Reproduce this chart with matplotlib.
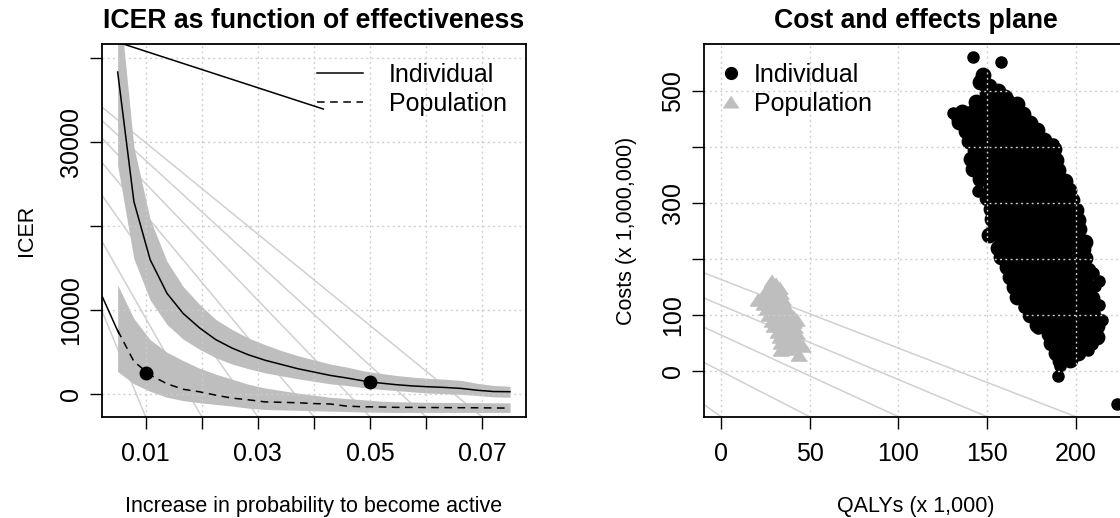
import numpy as np
import matplotlib
matplotlib.use("Agg")
import matplotlib.pyplot as plt
from matplotlib.lines import Line2D

plt.rcParams['font.family'] = ['Liberation Sans', 'DejaVu Sans']

########################################################################
#   Data                                #
########################################################################

# left panel : ICER as function of effectiveness
p_increase = [0.005, 0.0079, 0.0108, 0.0138, 0.0167, 0.0196, 0.0225, 0.0254,
              0.0283, 0.0313, 0.0342, 0.0371, 0.04, 0.0429, 0.0458, 0.0488,
              0.0517, 0.0546, 0.0575, 0.0604, 0.0633, 0.0663, 0.0692, 0.0721, 0.075]
icer_indiv = [38300, 22900, 16000, 12000, 9600, 7900, 6500, 5500, 4700, 4050,
              3550, 3050, 2650, 2250, 1950, 1600, 1350, 1150, 1000, 900, 820,
              700, 480, 330, 310]
icer_indiv_hi = [48700, 29400, 20800, 15800, 12800, 10700, 8900, 7700, 6700,
                 5900, 5200, 4600, 4100, 3600, 3250, 2800, 2500, 2250, 2050,
                 1900, 1800, 1650, 1300, 1050, 950]
icer_indiv_lo = [27200, 16100, 11200, 8300, 6550, 5350, 4350, 3600, 3050, 2550,
                 2200, 1850, 1550, 1250, 1050, 800, 600, 450, 300, 150, 80, 0,
                 -150, -300, -350]
icer_pop = [7600, 3900, 2300, 1250, 600, 300, -100, -450, -650, -900, -950,
            -1000, -1100, -1150, -1400, -1480, -1500, -1550, -1550, -1570,
            -1580, -1590, -1600, -1620, -1640]
icer_pop_hi = [13000, 9000, 6500, 5000, 4000, 3100, 2400, 1800, 1200, 750, 450,
               150, -100, -350, -500, -650, -800, -880, -920, -950, -970, -990,
               -1000, -1010, -1020]
icer_pop_lo = [2700, 1250, 350, -350, -750, -1000, -1200, -1400, -1650, -1800,
               -1850, -1900, -1950, -2000, -2050, -2100, -2130, -2150, -2150,
               -2150, -2150, -2150, -2150, -2150, -2150]
highlight_x = [0.01, 0.05]
highlight_y = [2570, 1430]

# light grey guide lines of the left panel (left border -> bottom border)
guide_left_y = [9800, 18100, 23600, 27500, 30400, 32500, 34100]
guide_bottom_x = [0.01, 0.02, 0.03, 0.04, 0.05, 0.06, 0.07]
# stray black segments of the left panel
stray_x = [0.00226, 0.0417]
stray_y = [42440, 33900]
lead_x = [0.00226, 0.0052]
lead_y = [11600, 7250]

x_ticks_left = [0.01, 0.02, 0.03, 0.04, 0.05, 0.06, 0.07]
x_labels_left = ['0.01', '', '0.03', '', '0.05', '', '0.07']
y_ticks_left = [0, 10000, 20000, 30000, 40000]
y_labels_left = ['0', '10000', '', '30000', '']

# right panel : cost and effects plane (QALYs x 1000, costs x 1e6)
indiv_outliers = [
    (142, 560), (158, 551), (131, 460), (145, 321), (191, 9), (190, -8), (223, -59),
    (171, 114), (215, 92), (208, 145), (213, 118), (187, 405), (179, 77),
    (210, 175), (213, 160), (211, 152), (209, 48), (207, 38), (200, 45), (133, 452),
]
indiv_points = [
    (148, 528), (146, 516), (151, 508), (156, 500), (160, 490), (150, 497),
    (144, 480), (150, 481), (156, 479), (162, 480), (167, 477),
    (136, 462), (141, 461), (147, 463), (153, 462), (159, 461), (165, 463), (170, 459),
    (134, 445), (140, 446), (146, 444), (152, 445), (158, 446), (164, 444), (170, 445), (174, 443),
    (138, 428), (144, 429), (150, 427), (156, 428), (162, 429), (168, 427), (174, 428), (178, 430),
    (140, 410), (146, 411), (152, 409), (158, 410), (164, 411), (170, 409), (176, 410), (182, 412),
    (143, 395), (149, 394), (155, 396), (161, 395), (167, 394), (173, 396), (179, 395), (185, 394), (188, 396),
    (141, 378), (147, 379), (153, 377), (159, 378), (165, 379), (171, 377), (177, 378), (183, 379), (189, 376),
    (142, 360), (148, 361), (154, 359), (160, 360), (166, 361), (172, 359), (178, 360), (184, 361), (190, 358),
    (146, 343), (152, 344), (158, 342), (164, 343), (170, 344), (176, 342), (182, 343), (188, 344), (194, 340),
    (152, 326), (158, 324), (164, 325), (170, 326), (176, 324), (182, 325), (188, 326), (196, 323),
    (150, 308), (156, 309), (162, 307), (168, 308), (174, 309), (180, 307), (186, 308), (192, 309), (198, 306),
    (152, 290), (158, 291), (164, 289), (170, 290), (176, 291), (182, 289), (188, 290), (194, 291), (200, 288),
    (153, 272), (159, 273), (165, 271), (171, 272), (177, 273), (183, 271), (189, 272), (195, 273), (201, 270),
    (154, 255), (160, 256), (166, 254), (172, 255), (178, 256), (184, 254), (190, 255), (196, 256), (202, 253),
    (151, 242), (158, 239), (164, 237), (170, 238), (176, 239), (182, 237), (188, 238), (194, 239), (200, 236), (205, 231),
    (156, 220), (162, 221), (168, 219), (174, 220), (180, 221), (186, 219), (192, 220), (198, 221), (204, 218),
    (158, 203), (164, 204), (170, 202), (176, 203), (182, 204), (188, 202), (194, 203), (200, 204), (205, 201),
    (161, 186), (167, 187), (173, 185), (179, 186), (185, 187), (191, 185), (197, 186), (203, 187), (207, 180),
    (163, 168), (169, 169), (175, 167), (181, 168), (187, 169), (193, 167), (199, 168), (205, 166),
    (165, 150), (171, 151), (177, 149), (183, 150), (189, 151), (195, 149), (201, 150),
    (167, 133), (173, 134), (179, 132), (185, 133), (191, 134), (197, 132), (203, 133), (209, 130),
    (176, 117), (182, 115), (188, 116), (194, 117), (200, 115), (206, 116),
    (174, 100), (180, 101), (186, 99), (192, 100), (198, 101), (204, 99), (210, 100),
    (178, 83), (184, 84), (190, 82), (196, 83), (202, 84), (208, 82), (212, 80),
    (185, 67), (191, 65), (197, 66), (203, 67), (209, 65), (212, 60),
    (186, 50), (192, 51), (198, 49), (204, 50),
    (189, 33), (195, 34), (201, 32),
    (191, 18), (197, 20),
]
pop_points = [
    (29, 160), (31, 156),
    (27, 150), (30, 151), (33, 148),
    (25, 140), (28, 141), (31, 139), (34, 140),
    (21, 127), (23, 131), (26, 130), (29, 129), (32, 131), (35, 128),
    (24, 120), (27, 121), (30, 119), (33, 120), (36, 118),
    (26, 110), (29, 111), (32, 109), (35, 110), (38, 108),
    (27, 100), (30, 101), (33, 99), (36, 100), (39, 99), (41, 97),
    (29, 90), (32, 91), (35, 89), (38, 90), (41, 88), (43, 92),
    (30, 80), (33, 81), (36, 79), (39, 80), (42, 78),
    (32, 70), (35, 71), (38, 69), (41, 70), (43, 68),
    (33, 60), (36, 61), (39, 59), (42, 60), (46, 45),
    (34, 50), (37, 51), (40, 49), (43, 50),
    (34, 37), (38, 42), (41, 40), (44, 28),
]
# light grey guide lines of the right panel (left border -> bottom border)
cp_guide_left_y = [175, 130, 78, 15, -60]
cp_guide_bottom_x = [200, 150, 100, 50, 0]

x_ticks_right = [0, 50, 100, 150, 200]
y_ticks_right = [0, 100, 200, 300, 400, 500]
y_labels_right = ['0', '100', '', '300', '', '500']

########################################################################
#   Figure                                                             #
########################################################################

W, H = 1120, 518
fig = plt.figure(figsize=(W / 100, H / 100), dpi=100)

def px_axes(left, top, width, height):
    return fig.add_axes([left / W, (H - top - height) / H, width / W, height / H])

GRID = dict(color='#CDCDCD', lw=1.0, dashes=(1.4, 2.4), zorder=4)
GUIDE = '#D0D0D0'
BAND = '#BEBEBE'

def style_axes(ax):
    for s in ax.spines.values():
        s.set_linewidth(1.3)
        s.set_zorder(10)
    ax.tick_params(direction='out', length=8.9, width=1.0, labelsize=18)
    ax.tick_params(axis='x', pad=9)
    ax.tick_params(axis='y', pad=5, labelrotation=90)
    for lbl in ax.get_yticklabels():
        lbl.set_va('center')

# ---------------- left panel ----------------
ax1 = px_axes(102.3, 44, 423.4, 372.7)
xl = (0.00226, 0.0778)
yl = (-2660, 41630)
ax1.set_xlim(xl)
ax1.set_ylim(yl)

for y0, x1 in zip(guide_left_y, guide_bottom_x):
    ax1.plot([xl[0], x1], [y0, yl[0]], color=GUIDE, lw=1.1, zorder=1)

ax1.fill_between(p_increase, icer_indiv_lo, icer_indiv_hi, color=BAND, lw=0, zorder=2)
ax1.fill_between(p_increase, icer_pop_lo, icer_pop_hi, color=BAND, lw=0, zorder=2)

for v in x_ticks_left:
    ax1.axvline(v, **GRID)
for v in y_ticks_left:
    ax1.axhline(v, **GRID)

ax1.plot(p_increase, icer_indiv, color='black', lw=1.1, zorder=5)
ax1.plot(p_increase, icer_pop, color='black', lw=1.1, dashes=(5, 3.6), zorder=5)
ax1.plot(lead_x, lead_y, color='black', lw=1.1, zorder=5)
ax1.plot(stray_x, stray_y, color='black', lw=1.1, zorder=5)
ax1.plot(highlight_x, highlight_y, 'o', color='black', ms=9, zorder=6)

ax1.set_xticks(x_ticks_left)
ax1.set_xticklabels(x_labels_left)
ax1.set_yticks(y_ticks_left)
ax1.set_yticklabels(y_labels_left)
style_axes(ax1)

h_ind = Line2D([], [], color='black', lw=1.1)
h_pop = Line2D([], [], color='black', lw=1.1, dashes=(5, 3.6))
ax1.legend([h_ind, h_pop], ['Individual', 'Population'], loc='upper left',
           bbox_to_anchor=(316.7 / W, (H - 62.6) / H), bbox_transform=fig.transFigure,
           frameon=False, fontsize=18, handlelength=1.86, handletextpad=1.04,
           labelspacing=0.2, borderpad=0, borderaxespad=0)

# ---------------- right panel ----------------
ax2 = px_axes(704.3, 44, 423.4, 372.7)
xr = (-9.4, 229.3)
yr = (-81.4, 583.7)
ax2.set_xlim(xr)
ax2.set_ylim(yr)

for y0, x1 in zip(cp_guide_left_y, cp_guide_bottom_x):
    ax2.plot([xr[0], x1], [y0, yr[0]], color=GUIDE, lw=1.1, zorder=1)

tri = [(0, 0.8), (-1, -0.7), (1, -0.7)]
pq, pc = zip(*pop_points)
ax2.plot(pq, pc, linestyle='none', marker=tri, color=BAND, ms=11.5, zorder=2)
iq, ic = zip(*indiv_points)
ax2.plot(iq, ic, linestyle='none', marker='o', color='black', ms=10.4, zorder=3)
oq, oc = zip(*indiv_outliers)
ax2.plot(oq, oc, linestyle='none', marker='o', color='black', ms=8, zorder=3)

for v in x_ticks_right:
    ax2.axvline(v, **GRID)
for v in y_ticks_right:
    ax2.axhline(v, **GRID)

ax2.set_xticks(x_ticks_right)
ax2.set_xticklabels([str(v) for v in x_ticks_right])
ax2.set_yticks(y_ticks_right)
ax2.set_yticklabels(y_labels_right)
style_axes(ax2)

m_ind = Line2D([], [], linestyle='none', marker='o', color='black', ms=8.5)
m_pop = Line2D([], [], linestyle='none', marker=tri, color=BAND, ms=11)
ax2.legend([m_ind, m_pop], ['Individual', 'Population'], loc='upper left',
           bbox_to_anchor=(718.2 / W, (H - 62.6) / H), bbox_transform=fig.transFigure,
           frameon=False, fontsize=18, handlelength=1.0, handletextpad=0.44,
           labelspacing=0.2, borderpad=0, borderaxespad=0)

# ---------------- texts ----------------
def ftext(x, y, s, **kw):
    fig.text(x / W, (H - y) / H, s, **kw)

ftext(314, 28.5, 'ICER as function of effectiveness', ha='center', va='baseline',
      fontsize=19.2, weight='bold')
ftext(916, 28.5, 'Cost and effects plane', ha='center', va='baseline',
      fontsize=19.2, weight='bold')
ftext(314, 511.7, 'Increase in probability to become active', ha='center',
      va='baseline', fontsize=15.5)
ftext(916, 511.7, 'QALYs (x 1,000)', ha='center', va='baseline', fontsize=15.5)
ftext(32, 230.4, 'ICER', ha='center', va='baseline', rotation=90,
      rotation_mode='anchor', fontsize=15.5)
ftext(632, 230.4, 'Costs (x 1,000,000)', ha='center', va='baseline', rotation=90,
      rotation_mode='anchor', fontsize=15.5)

fig.savefig('out.png', dpi=100)
